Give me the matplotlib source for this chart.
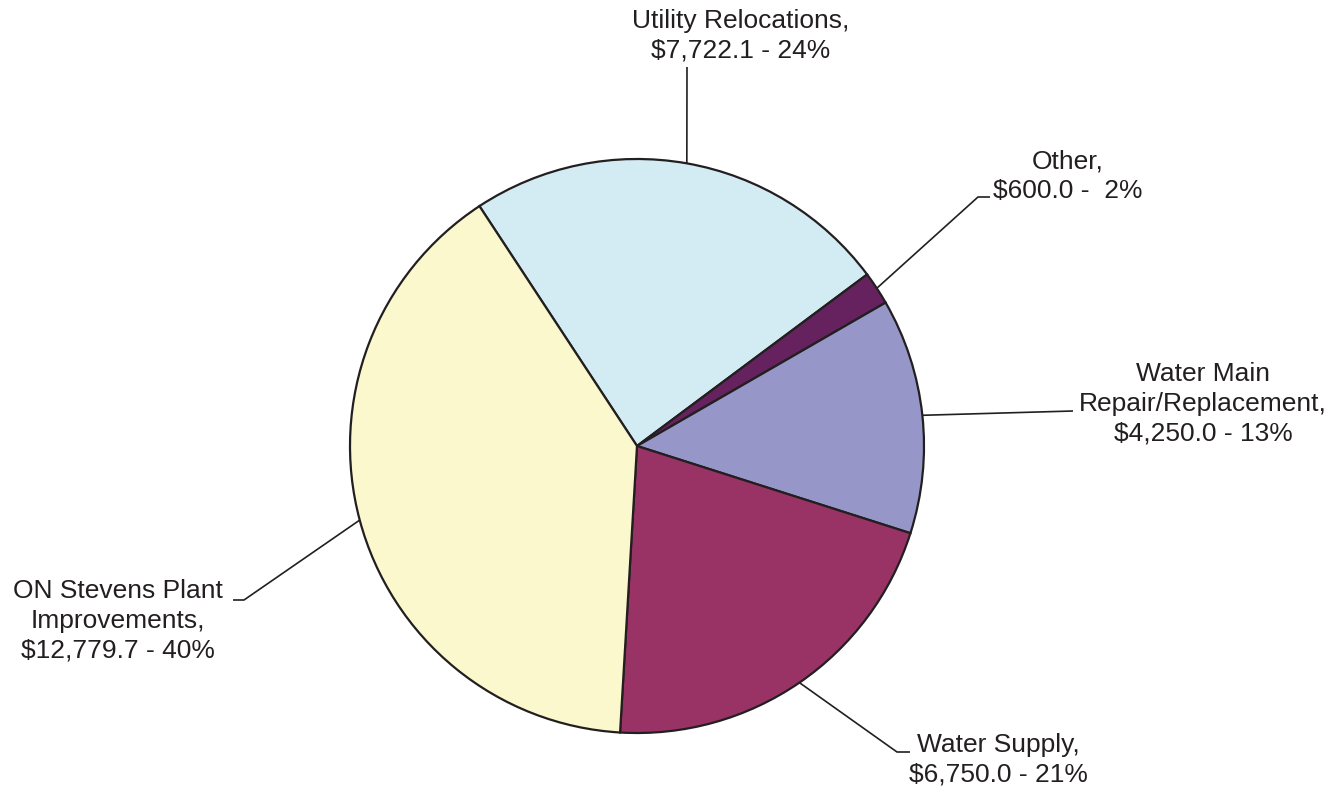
import numpy as np
import matplotlib
matplotlib.use('Agg')
import matplotlib.pyplot as plt

# data
names = ["Utility Relocations", "Other", "Water Main\nRepair/Replacement",
         "Water Supply", "ON Stevens Plant\nImprovements"]
values = [7722.1, 600.0, 4250.0, 6750.0, 12779.7]
colors = ["#D3ECF3", "#66215F", "#9696C8", "#993366", "#FBF8CD"]

W, H = 1332, 791
plt.rcParams['font.family'] = ['Liberation Sans', 'DejaVu Sans']

fig = plt.figure(figsize=(W / 100, H / 100), dpi=100)
ax = fig.add_axes([0, 0, 1, 1])

cx, cy, r = 637, H - 446, 287
wedges, _ = ax.pie(values, colors=colors, startangle=123.3, counterclock=False,
                   center=(cx, cy), radius=r, frame=True,
                   wedgeprops=dict(edgecolor='#231F20', linewidth=1.6))
ax.set_xlim(0, W)
ax.set_ylim(0, H)
ax.set_aspect('equal')
ax.axis('off')

total = sum(values)
labels = [f"{n},\n${v:,.1f} - {v / total * 100:2.0f}%" for n, v in zip(names, values)]

# leader line bends and label positions (pixel coords, y from top)
elbows = [[(687, 67)],
          [(978, 197), (990, 197)],
          [(1073, 411)],
          [(897, 752), (910, 752)],
          [(244, 600), (233, 600)]]
text_pos = [(741, 36), (1068, 176), (1203, 404), (998, 760), (118, 621)]

for w, lab, elb, tp in zip(wedges, labels, elbows, text_pos):
    mid = np.deg2rad((w.theta1 + w.theta2) / 2)
    xs = [cx + r * np.cos(mid)] + [p[0] for p in elb]
    ys = [cy + r * np.sin(mid)] + [H - p[1] for p in elb]
    ax.plot(xs, ys, color='#231F20', linewidth=1.2, solid_capstyle='butt')
    ax.text(tp[0], H - tp[1], lab, ha='center', va='center', fontsize=19,
            color='#231F20', linespacing=1.3)

fig.savefig('out.png', dpi=100, facecolor='white')
